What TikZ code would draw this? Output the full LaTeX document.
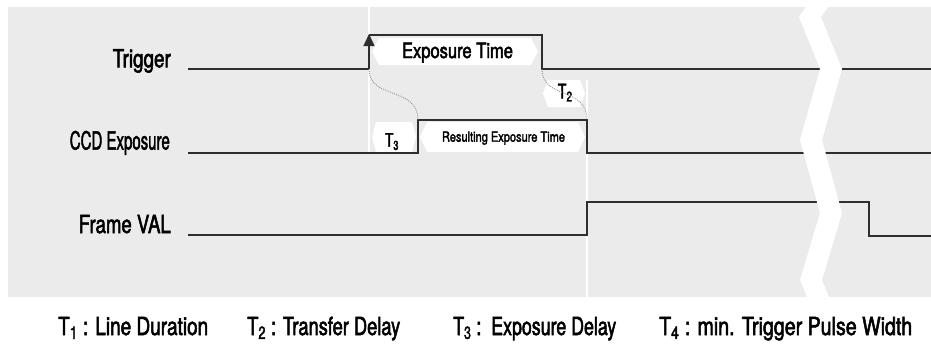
\documentclass[tikz,border=0pt]{standalone}
\usepackage{fontspec}
\setmainfont[FakeStretch=0.72,FakeBold=2]{TeX Gyre Heros}
\usetikzlibrary{arrows.meta,shapes.symbols}
\definecolor{bggray}{HTML}{EBEBEB}
\definecolor{sig}{HTML}{2E2E2E}
\newcommand\fitw[2]{\resizebox{#1}{\height}{#2}}
\tikzset{
  sigline/.style={draw=sig, line width=1.4pt, line join=miter},
  lbl/.style={anchor=base east, inner sep=0pt, font=\fontsize{25}{25}\selectfont},
  hexbox/.style={signal, signal to=west and east, fill=white, draw=none, inner sep=0pt},
  delay/.style={draw=gray!85, line width=0.9pt, dash pattern=on 0.9pt off 1.1pt},
  gap/.style={white, line width=1.6pt},
  legend/.style={anchor=base west, inner sep=0pt, font=\fontsize{25}{25}\selectfont}
}
\begin{document}
\begin{tikzpicture}[x=1pt,y=-1pt]
\useasboundingbox (0,0) rectangle (931,343);
\fill[bggray] (8,7) rectangle (931,297);
% white guide lines
\draw[gap] (369,7) -- (369,153);
\draw[gap] (587,80) -- (587,297);
% boxes
\node[hexbox, signal pointer angle=125, minimum width=166pt, minimum height=27pt] (exptime) at (455,51.5) {};
\node[anchor=base, inner sep=0pt, font=\fontsize{21}{21}\selectfont] (exptxt) at (457.5,58) {\fitw{111pt}{Exposure Time}};
\node[hexbox, signal pointer angle=130, minimum width=165pt, minimum height=30pt] (resexp) at (502.5,137) {};
\node[anchor=base, inner sep=0pt, font=\fontsize{14}{14}\selectfont] (restxt) at (503.5,141.7) {\fitw{123pt}{Resulting Exposure Time}};
\node[hexbox, signal pointer angle=150, minimum width=44pt, minimum height=30pt] (tthree) at (394,137) {};
\node[anchor=base west, inner sep=0pt, font=\fontsize{18.5}{18.5}\selectfont] (t3txt) at (385,146.7) {T\textsubscript{3}};
\node[hexbox, signal pointer angle=140, minimum width=42pt, minimum height=27pt] (ttwo) at (564,93.5) {};
\node[anchor=base west, inner sep=0pt, font=\fontsize{20}{20}\selectfont] (t2txt) at (557.5,98.3) {T\textsubscript{2}};
% signal labels
\node[lbl] (ltrig) at (171,67.3) {\fitw{58pt}{Trigger}};
\node[lbl] (lccd) at (170,149.5) {\fitw{100pt}{CCD Exposure}};
\node[lbl] (lframe) at (171,233) {\fitw{92pt}{Frame VAL}};
% signal coordinates
\coordinate (t0) at (188,69);
\coordinate (t1) at (369,69);
\coordinate (t2) at (369,35);
\coordinate (t3) at (542,35);
\coordinate (t4) at (542,69);
\coordinate (t5) at (931,69);
\coordinate (c0) at (188,153);
\coordinate (c1) at (418,153);
\coordinate (c2) at (418,120);
\coordinate (c3) at (587,120);
\coordinate (c4) at (587,153);
\coordinate (c5) at (931,153);
\coordinate (f0) at (188,235);
\coordinate (f1) at (587,235);
\coordinate (f2) at (587,202);
\coordinate (f3) at (869,202);
\coordinate (f4) at (869,236);
\coordinate (f5) at (931,236);
% signals
\draw[sigline] (t0) -- (t1);
\draw[sigline, -{Triangle[length=12pt,width=11pt]}] (t1) -- ([yshift=1pt]t2);
\draw[sigline] (t2) -- (t3) -- (t4) -- (t5);
\draw[sigline] (c0) -- (c1) -- (c2) -- (c3) -- (c4) -- (c5);
\draw[sigline] (f0) -- (f1) -- (f2) -- (f3) -- (f4) -- (f5);
% delay curves
\draw[delay] (t1) .. controls (369,100) and (418,86) .. (c2);
\draw[delay] (t4) .. controls (542,100) and (587,86) .. (c3);
% zigzag break
\fill[white] (806,7) -- (799,17) -- (820,69) -- (800,140) -- (820,213) -- (800,280) -- (807,297)
  -- (829,297) -- (822,280) -- (842,213) -- (822,140) -- (842,69) -- (821,17) -- (828,7) -- cycle;
% legend
\node[legend] (lg1) at (58,335) {\fitw{150pt}{T\textsubscript{1} : Line Duration}};
\node[legend] (lg2) at (247,335) {\fitw{153pt}{T\textsubscript{2} : Transfer Delay}};
\node[legend] (lg3) at (453,335) {\fitw{163pt}{T\textsubscript{3} :\ \ Exposure Delay}};
\node[legend] (lg4) at (659,335) {\fitw{253pt}{T\textsubscript{4} : min. Trigger Pulse Width}};
\end{tikzpicture}
\end{document}
